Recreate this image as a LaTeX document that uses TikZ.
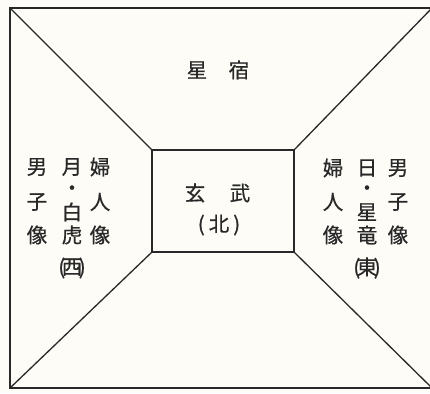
\documentclass[tikz,border=0pt]{standalone}
\usepackage{fontspec}
\newfontfamily\jp[FakeBold=0.6]{Noto Sans CJK JP}
\definecolor{paper}{RGB}{253,252,246}
\definecolor{ink}{RGB}{40,40,40}
\newcommand{\tightdot}{\makebox[0pt]{\raisebox{0pt}[3pt][3pt]{\raisebox{-0.36em}[0pt][0pt]{・}}}}
\begin{document}
\begin{tikzpicture}[x=1pt,y=-1pt,
  line/.style={draw=ink,line width=1.3pt},
  ch/.style={font=\jp\fontsize{20.5}{20.5}\selectfont, text=ink, inner sep=0pt}]
\useasboundingbox[fill=paper] (0,0) rectangle (430,393);
\coordinate (otl) at (10,8);
\coordinate (otr) at (432,8);
\coordinate (obr) at (432,388);
\coordinate (obl) at (10,388);
\node[line, minimum width=142pt, minimum height=102pt, inner sep=0pt] (inner) at (223,201) {};
\draw[line] (otl) -- (otr) -- (obr) -- (obl) -- cycle;
\draw[line] (otl) -- (inner.north west);
\draw[line] (otr) -- (inner.north east);
\draw[line] (obl) -- (inner.south west);
\draw[line] (obr) -- (inner.south east);
% top
\node[ch] (t1) at (197,70) {星};
\node[ch] (t2) at (239,70) {宿};
% centre
\node[ch] (c1) at (195,193) {玄};
\node[ch] (c2) at (240,193) {武};
\node[ch] (c3) at (219,225) {(\kern4pt 北\kern4pt)};
% left
\node[ch] (l1) at (37,167) {男};
\node[ch] (l2) at (37,202) {子};
\node[ch] (l3) at (37,235) {像};
\node[ch] (m1) at (72,167) {月};
\node[ch] (m2) at (72,188) {\tightdot};
\node[ch] (m3) at (72,212) {白};
\node[ch] (m4) at (72,235) {虎};
\node[ch] (m5) at (72,268) {(\kern-3.5pt 西\kern-3.5pt)};
\node[ch] (n1) at (100,167) {婦};
\node[ch] (n2) at (100,202) {人};
\node[ch] (n3) at (100,235) {像};
% right
\node[ch] (r1) at (333,168) {婦};
\node[ch] (r2) at (333,202) {人};
\node[ch] (r3) at (333,235) {像};
\node[ch] (s1) at (367,168) {日};
\node[ch] (s2) at (367,188) {\tightdot};
\node[ch] (s3) at (367,212) {星};
\node[ch] (s4) at (367,235) {竜};
\node[ch] (s5) at (367,268) {(\kern-3.5pt 東\kern-3.5pt)};
\node[ch] (u1) at (398,168) {男};
\node[ch] (u2) at (398,202) {子};
\node[ch] (u3) at (398,235) {像};
\end{tikzpicture}
\end{document}
